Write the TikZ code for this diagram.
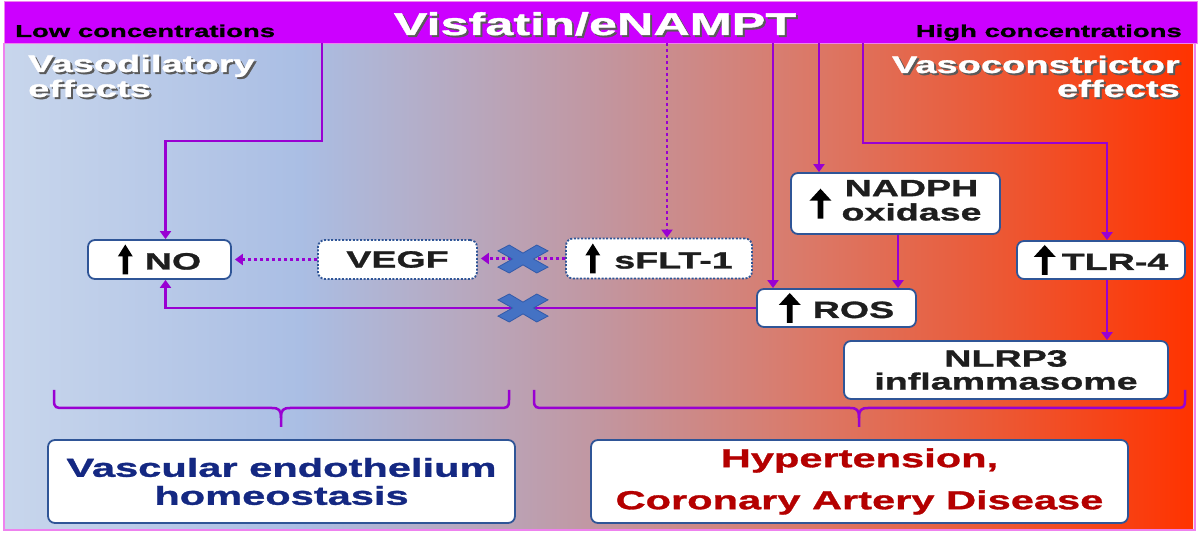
\documentclass[tikz,border=0pt]{standalone}
\usepackage{fontspec}
\newfontfamily\wf{Liberation Sans}[FakeStretch=1.6, BoldFeatures={FakeBold=1.2}]
\usetikzlibrary{arrows.meta}
\definecolor{hdrc}{RGB}{204,0,255}
\definecolor{lnc}{RGB}{153,0,210}
\definecolor{bordc}{RGB}{47,85,151}
\definecolor{xc}{RGB}{68,114,196}
\definecolor{xcd}{RGB}{50,90,170}
\definecolor{pinkc}{RGB}{238,130,238}
\definecolor{txtc}{RGB}{30,30,30}
\definecolor{bluet}{RGB}{20,40,130}
\definecolor{redt}{RGB}{180,0,0}
\definecolor{shc}{RGB}{90,90,90}
\definecolor{c0}{RGB}{200,214,236}
\definecolor{c1}{RGB}{170,190,228}
\definecolor{c2}{RGB}{194,150,160}
\definecolor{c3}{RGB}{218,122,106}
\definecolor{c4}{RGB}{236,88,52}
\definecolor{c5}{RGB}{255,51,0}
\newcommand\uparr[2][5pt]{\tikz[baseline=#1,sharp corners]{\fill[black,sharp corners] (-2.8pt,0pt) -- (2.8pt,0pt) -- (2.8pt,18pt) -- (#2/2,18pt) -- (0pt,30pt) -- (-#2/2,18pt) -- (-2.8pt,18pt) -- cycle;}}
\tikzset{
  box/.style={draw=bordc, line width=1.8pt, fill=white, rounded corners=7pt, inner sep=0pt,
    text=txtc, font=\wf\bfseries\fontsize{23.5}{24}\selectfont, align=center},
  dbox/.style={box, dash pattern=on 2pt off 1.6pt},
  conn/.style={draw=lnc, line width=2.4pt, -{Triangle[width=11pt,length=8pt]}},
  dconn/.style={conn, dash pattern=on 3pt off 3pt},
  brace/.style={draw=lnc, line width=2.5pt},
  xmark/.pic={\fill[xc, draw=xcd, line width=0.8pt, xscale=25, yscale=14]
    (0,0.42) -- (-0.55,1) -- (-1,0.58) -- (-0.42,0) -- (-1,-0.58) -- (-0.55,-1) -- (0,-0.42)
    -- (0.55,-1) -- (1,-0.58) -- (0.42,0) -- (1,0.58) -- (0.55,1) -- cycle;}
}
\begin{document}
\begin{tikzpicture}[x=1pt,y=-1pt]
\useasboundingbox (0,0) rectangle (1200,534);
\fill[white] (0,0) rectangle (1200,534);
% background gradient
\shade[left color=c0, right color=c1] (5,43) rectangle (300.5,530);
\shade[left color=c1, right color=c2] (300,43) rectangle (600.5,530);
\shade[left color=c2, right color=c3] (600,43) rectangle (800.5,530);
\shade[left color=c3, right color=c4] (800,43) rectangle (1000.5,530);
\shade[left color=c4, right color=c5] (1000,43) rectangle (1193,530);
\draw[pinkc, line width=2pt] (4,43) -- (4,530) -- (1195,530) -- (1195,43);
% header
\node[fill=hdrc, draw=pinkc, line width=1pt, minimum width=1193pt, minimum height=42pt, inner sep=0pt, anchor=north west] (hdr) at (3.5,1) {};
\node[anchor=base, text=shc, inner sep=0pt, font=\wf\bfseries\fontsize{31.5}{31}\selectfont] at (597,37) {Visfatin/eNAMPT};
\node[anchor=base, text=white, inner sep=0pt, font=\wf\bfseries\fontsize{31.5}{31}\selectfont] (title) at (595,35) {Visfatin/eNAMPT};
\node[anchor=base west, inner sep=0pt, text=black, font=\wf\bfseries\fontsize{17.2}{17}\selectfont] (low) at (15,37) {Low concentrations};
\node[anchor=base east, inner sep=0pt, text=black, font=\wf\bfseries\fontsize{17.2}{17}\selectfont] (high) at (1182,37) {High concentrations};
% effects labels
\foreach \dx/\dy/\col in {2/2/shc,0/0/white}{
  \node[anchor=base west, inner sep=0pt, text=\col, font=\wf\bfseries\fontsize{23.8}{23}\selectfont] at (28+\dx,72+\dy) {Vasodilatory};
  \node[anchor=base west, inner sep=0pt, text=\col, font=\wf\bfseries\fontsize{23.8}{23}\selectfont] at (28+\dx,97+\dy) {effects};
  \node[anchor=base east, inner sep=0pt, text=\col, font=\wf\bfseries\fontsize{23.8}{23}\selectfont] at (1180+\dx,73+\dy) {Vasoconstrictor};
  \node[anchor=base east, inner sep=0pt, text=\col, font=\wf\bfseries\fontsize{23.8}{23}\selectfont] at (1180+\dx,97+\dy) {effects};
}
% nodes
\node[box, minimum width=143pt, minimum height=39pt] (no) at (159.5,259.5) {\uparr{15pt}\hspace{12pt}NO};
\node[dbox, minimum width=159pt, minimum height=39pt] (vegf) at (397.5,259.5) {VEGF};
\node[dbox, minimum width=186pt, minimum height=40pt] (sflt) at (659,258.5) {\uparr{15pt}\hspace{14pt}sFLT-1};
\node[box, minimum width=209pt, minimum height=61pt] (nadph) at (895.5,203.5) {\uparr[9pt]{22pt}\hspace{10pt}\begin{tabular}{@{}c@{}}NADPH\\oxidase\end{tabular}};
\node[box, minimum width=159pt, minimum height=38pt] (ros) at (836.5,308) {\uparr{22pt}\hspace{12pt}ROS};
\node[box, minimum width=168pt, minimum height=38pt] (tlr) at (1101,260) {\uparr{22pt}\hspace{6pt}TLR-4};
\node[box, minimum width=324pt, minimum height=58pt, font=\wf\bfseries\fontsize{23.5}{23}\selectfont] (nlrp) at (1006,370) {NLRP3\\inflammasome};
\node[box, minimum width=467pt, minimum height=83pt, text=bluet, font=\wf\bfseries\fontsize{26}{28}\selectfont] (vasc) at (281.5,481.5) {\rule{0pt}{12pt}Vascular endothelium\\homeostasis};
\node[box, minimum width=537pt, minimum height=83pt, text=redt, font=\wf\bfseries\fontsize{26}{42}\selectfont] (hyp) at (859.5,481.5) {Hypertension,\\Coronary Artery Disease};
% connectors
\coordinate (s1) at (322,43);
\coordinate (s2) at (667,43);
\coordinate (s3) at (773,43);
\coordinate (s4) at (819,43);
\coordinate (s5) at (863,43);
\draw[conn] (s1) -- (322,141) -| ([xshift=6pt]no.north);
\draw[dconn] (s2) -- (s2 |- sflt.north);
\draw[conn] (s3) -- (s3 |- ros.north);
\draw[conn] (s4) -- (s4 |- nadph.north);
\draw[conn] (s5) -- (863,143) -| ([xshift=6pt]tlr.north);
\draw[conn] ([xshift=2.5pt]nadph.south) -- ([xshift=2.5pt]nadph.south |- ros.north);
\draw[conn] ([xshift=6pt]tlr.south) -- ([xshift=6pt]tlr.south |- nlrp.north);
\draw[conn] (ros.west) -| ([xshift=6pt]no.south);
\draw[dconn, shorten >=3pt] (sflt.west) -- (sflt.west -| vegf.east);
\draw[dconn, shorten >=3pt] (vegf.west) -- (vegf.west -| no.east);
\pic at (523,259) {xmark};
\pic at (523,308) {xmark};
% braces
\draw[brace] (54,390) -- (54,400) .. controls (54,408) and (56,408) .. (64,408) -- (272,408) .. controls (279,408) and (281,410) .. (281,418) -- (281,427);
\draw[brace] (509,390) -- (509,400) .. controls (509,408) and (507,408) .. (499,408) -- (290,408) .. controls (283,408) and (281,410) .. (281,418);
\draw[brace] (534,390) -- (534,400) .. controls (534,408) and (536,408) .. (544,408) -- (850,408) .. controls (857,408) and (859,410) .. (859,418) -- (859,427);
\draw[brace] (1185,390) -- (1185,400) .. controls (1185,408) and (1183,408) .. (1175,408) -- (868,408) .. controls (861,408) and (859,410) .. (859,418);
\end{tikzpicture}
\end{document}
